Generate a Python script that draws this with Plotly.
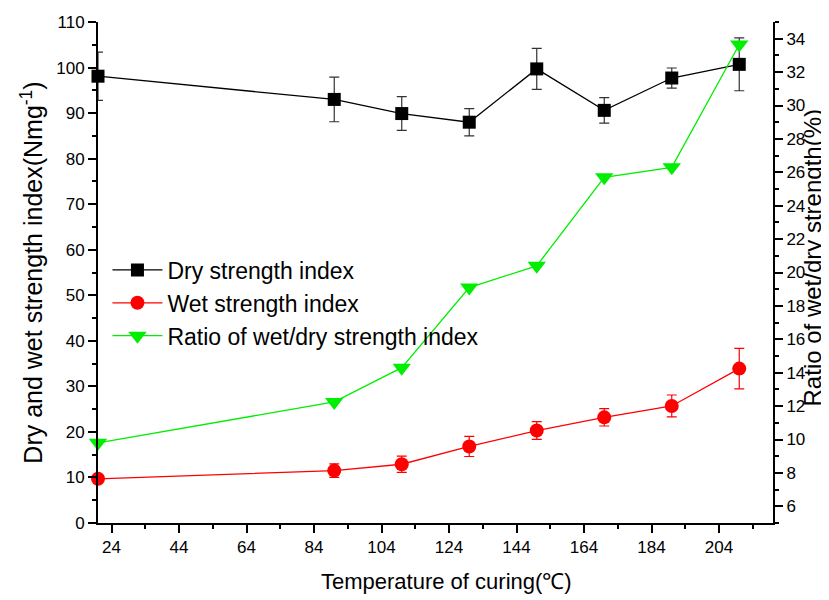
import plotly.graph_objects as go

temperature = [20, 90, 110, 130, 150, 170, 190, 210]
dry_index = [98.1, 93.0, 89.9, 88.0, 99.7, 90.6, 97.7, 100.7]
dry_err = [5.3, 4.9, 3.7, 3.0, 4.5, 2.8, 2.2, 5.8]
wet_index = [9.7, 11.5, 12.9, 16.8, 20.3, 23.2, 25.7, 33.9]
wet_err = [0.4, 1.5, 1.8, 2.2, 1.95, 1.9, 2.4, 4.45]
ratio = [9.8, 12.25, 14.3, 19.1, 20.4, 25.7, 26.3, 33.65]

FONT = "Liberation Sans, Arial, sans-serif"

fig = go.Figure()
fig.add_trace(go.Scatter(
    x=temperature, y=dry_index, name="Dry strength index", mode="lines+markers",
    line=dict(color="black", width=1.3),
    marker=dict(symbol="square", size=13, color="black"),
    error_y=dict(type="data", array=dry_err, visible=True, color="#333333", thickness=1.2, width=5),
    cliponaxis=False,
))
fig.add_trace(go.Scatter(
    x=temperature, y=wet_index, name="Wet strength index", mode="lines+markers",
    line=dict(color="red", width=1.3),
    marker=dict(symbol="circle", size=14, color="red"),
    error_y=dict(type="data", array=wet_err, visible=True, color="red", thickness=1.2, width=5),
    cliponaxis=False,
))
fig.add_trace(go.Scatter(
    x=temperature, y=ratio, name="Ratio of wet/dry strength index", mode="lines+markers",
    line=dict(color="#00ee00", width=1.3),
    marker=dict(symbol="triangle-down", size=16, color="#00ee00"),
    yaxis="y2", cliponaxis=False,
))

axis_common = dict(
    showline=True, linecolor="black", linewidth=2, mirror=False,
    ticks="outside", ticklen=8, tickwidth=2, tickcolor="black",
    showgrid=False, zeroline=False, automargin=False,
    tickfont=dict(family=FONT, size=17, color="black"),
)

fig.update_layout(
    width=821, height=592,
    margin=dict(l=90, r=56, t=14, b=77),
    plot_bgcolor="white", paper_bgcolor="white",
    font=dict(family=FONT, color="black"),
    showlegend=True,
    legend=dict(x=0.014, y=0.548, xanchor="left", yanchor="top",
                bgcolor="rgba(0,0,0,0)", font=dict(family=FONT, size=23, color="black"),
                tracegroupgap=0, itemwidth=50),
    xaxis=dict(
        **axis_common, range=[20, 220], tick0=24, dtick=20,
        minor=dict(tick0=24, dtick=10, ticks="outside", ticklen=4, tickwidth=2, tickcolor="black"),
    ),
    yaxis=dict(
        **axis_common, range=[0, 110], tick0=0, dtick=10,
        minor=dict(dtick=5, ticks="outside", ticklen=4, tickwidth=2, tickcolor="black"),
        title=dict(text="Dry and wet strength index(Nmg<sup>-1</sup>)", font=dict(family=FONT, size=25), standoff=6),
    ),
    yaxis2=dict(
        **axis_common, overlaying="y", side="right", range=[5, 35], tick0=6, dtick=2,
        minor=dict(tick0=5, dtick=1, ticks="outside", ticklen=4, tickwidth=2, tickcolor="black"),
    ),
    annotations=[
        dict(text="Temperature of curing(℃)", xref="paper", yref="paper",
             x=0.5166, y=-0.117, xanchor="center", yanchor="middle", showarrow=False,
             font=dict(family=FONT, size=22, color="black")),
        dict(text="Ratio of wet/dry strength(%)", xref="paper", yref="paper",
             x=1.0585, y=0.529, xanchor="center", yanchor="middle", showarrow=False,
             textangle=-90, borderpad=0, font=dict(family=FONT, size=24, color="black")),
    ],
)

fig.write_html("out.html")
